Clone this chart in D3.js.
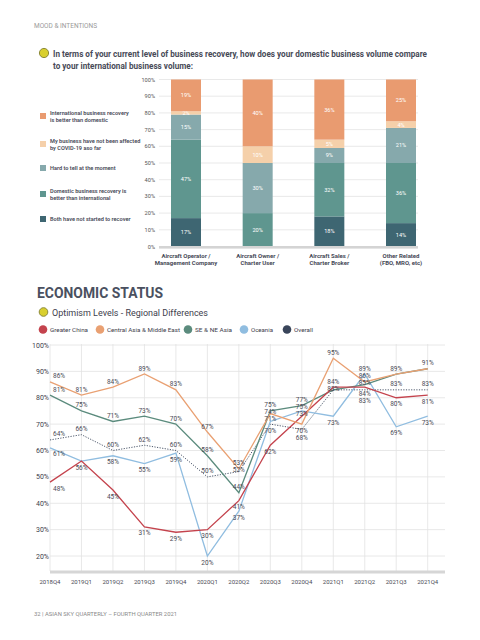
<!DOCTYPE html>
<html><head><meta charset="utf-8">
<script src="https://cdn.jsdelivr.net/npm/d3@7/dist/d3.min.js"></script>
<style>body{margin:0;background:#fff}svg{display:block;font-family:Roboto,"Noto Sans",sans-serif}</style>
</head><body><svg id="c" width="480" height="640"></svg>
<script>
// ---------- DATA: bar chart ----------
const barCategories = ["Aircraft Operator /\nManagement Company", "Aircraft Owner /\nCharter User", "Aircraft Sales /\nCharter Broker", "Other Related\n(FBO, MRO, etc)"];
const segmentKeys = ["both", "domestic", "hard", "notAffected", "international"];
const segmentLabels = ["Both have not started to recover", "Domestic business recovery is\nbetter than international", "Hard to tell at the moment", "My business have not been affected\nby COVID-19 aso far", "International business recovery\nis better than domestic"];
const bothNotStarted = [17, 0, 18, 14];
const domesticBetter = [47, 20, 32, 36];
const hardToTell = [15, 30, 9, 21];
const notAffected = [2, 10, 5, 4];
const internationalBetter = [19, 40, 36, 25];
const barTicks = [0, 10, 20, 30, 40, 50, 60, 70, 80, 90, 100];

// ---------- DATA: line chart ----------
const quarters = ["2018Q4","2019Q1","2019Q2","2019Q3","2019Q4","2020Q1","2020Q2","2020Q3","2020Q4","2021Q1","2021Q2","2021Q3","2021Q4"];
const seriesNames = ["Greater China", "Central Asia & Middle East", "SE & NE Asia", "Oceania", "Overall"];
const greaterChina = [48, 56, 45, 31, 29, 30, 41, 62, 73, 84, 84, 80, 81];
const centralAsiaME = [86, 81, 84, 89, 83, 67, 53, 74, 70, 95, 86, 89, 91];
const seNeAsia = [81, 75, 71, 73, 70, 58, 44, 75, 77, 83, 85, 89, 91];
const oceania = [61, 56, 58, 55, 59, 20, 37, 71, 75, 73, 89, 69, 73];
const overall = [64, 66, 60, 62, 60, 50, 52, 70, 68, 83, 83, 83, 83];
const lineTicks = [20, 30, 40, 50, 60, 70, 80, 90, 100];

const svg = d3.select("#c");
const textCol = "#474a57";

// ---------- header ----------
svg.append("text").attr("x", 34).attr("y", 28).attr("font-size", 6.5).attr("fill", "#9a9a9a")
  .attr("textLength", 63).attr("lengthAdjust", "spacingAndGlyphs").text("MOOD & INTENTIONS");
svg.append("circle").attr("cx", 44).attr("cy", 53).attr("r", 4.6).attr("fill", "#d9cf2e").attr("stroke", "#8c8a3a").attr("stroke-width", 1);
svg.append("text").attr("x", 53).attr("y", 56.5).attr("font-size", 9.3).attr("font-weight", 700).attr("fill", textCol)
  .attr("textLength", 374).attr("lengthAdjust", "spacingAndGlyphs")
  .text("In terms of your current level of business recovery, how does your domestic business volume compare");
svg.append("text").attr("x", 53).attr("y", 69).attr("font-size", 9.3).attr("font-weight", 700).attr("fill", textCol)
  .attr("textLength", 140).attr("lengthAdjust", "spacingAndGlyphs")
  .text("to your international business volume:");

// ---------- bar chart ----------
const segColors = {both: "#3e6672", domestic: "#5f968f", hard: "#86a9ac", notAffected: "#f5d0aa", international: "#e99b70"};
const yB = d3.scaleLinear().domain([0, 100]).range([246.5, 79.5]);
const xB = d3.scalePoint().domain(barCategories).range([186, 401]);
const barW = 30;
const gB = svg.append("g");
barTicks.forEach(t => {
  gB.append("line").attr("x1", 159).attr("x2", 418).attr("y1", yB(t)).attr("y2", yB(t)).attr("stroke", "#e3e3e3").attr("stroke-width", 0.8);
  gB.append("text").attr("x", 155).attr("y", yB(t) + 2).attr("text-anchor", "end").attr("font-size", 5.6).attr("fill", "#555").text(t + "%");
});
const barRows = barCategories.map((c, i) => ({cat: c, both: bothNotStarted[i], domestic: domesticBetter[i], hard: hardToTell[i], notAffected: notAffected[i], international: internationalBetter[i]}));
const stacked = d3.stack().keys(segmentKeys)(barRows);
stacked.forEach(layer => {
  layer.forEach(d => {
    const x = xB(d.data.cat) - barW / 2;
    gB.append("rect").attr("x", x).attr("width", barW).attr("y", yB(d[1])).attr("height", Math.max(0, yB(d[0]) - yB(d[1]))).attr("fill", segColors[layer.key]);
    const v = d[1] - d[0];
    const ly = v === 0 ? yB(d[0]) - 4 : (yB(d[0]) + yB(d[1])) / 2 + 2;
    gB.append("text").attr("x", xB(d.data.cat)).attr("y", ly).attr("text-anchor", "middle").attr("font-size", 5.6).attr("fill", "#fff").text(v + "%");
  });
});
gB.append("rect").attr("x", 159).attr("y", 246).attr("width", 259).attr("height", 2.6).attr("fill", "#d4d4d4");
barCategories.forEach(c => {
  c.split("\n").forEach((ln, j) => {
    gB.append("text").attr("x", xB(c)).attr("y", 258 + j * 7).attr("text-anchor", "middle").attr("font-size", 6).attr("font-weight", 700).attr("fill", textCol).text(ln);
  });
});
// legend (top to bottom = reverse of stack)
const legY = [116, 144, 168, 194, 219];
segmentKeys.slice().reverse().forEach((k, i) => {
  const idx = segmentKeys.length - 1 - i;
  gB.append("rect").attr("x", 40).attr("y", legY[i] - 3).attr("width", 6).attr("height", 6).attr("fill", segColors[k]);
  const lines = segmentLabels[idx].split("\n");
  lines.forEach((ln, j) => {
    gB.append("text").attr("x", 50).attr("y", legY[i] + 2 - (lines.length - 1) * 3.5 + j * 7).attr("font-size", 5.6).attr("font-weight", 600).attr("fill", textCol).text(ln);
  });
});

// ---------- section 2 header ----------
svg.append("text").attr("x", 37).attr("y", 298).attr("font-size", 15).attr("font-weight", 700).attr("fill", "#4a5060")
  .attr("textLength", 126).attr("lengthAdjust", "spacingAndGlyphs").text("ECONOMIC STATUS");
svg.append("circle").attr("cx", 43.5).attr("cy", 312).attr("r", 4.3).attr("fill", "#d9cf2e").attr("stroke", "#8c8a3a").attr("stroke-width", 1);
svg.append("text").attr("x", 52).attr("y", 315.5).attr("font-size", 9).attr("fill", "#3e404c")
  .attr("textLength", 156).attr("lengthAdjust", "spacingAndGlyphs").text("Optimism Levels - Regional Differences");

const lineColors = ["#c4434d", "#e9a072", "#5b8b7d", "#90bde0", "#39455a"];
const legendCircleX = [43, 100, 188, 244, 287];
const legendTextW = [38, 73, 37, 22, 19];
seriesNames.forEach((n, i) => {
  svg.append("circle").attr("cx", legendCircleX[i]).attr("cy", 329.5).attr("r", 4.3).attr("fill", lineColors[i]);
  svg.append("text").attr("x", legendCircleX[i] + 7).attr("y", 331.8).attr("font-size", 6).attr("fill", "#3e404c")
    .attr("textLength", legendTextW[i]).attr("lengthAdjust", "spacingAndGlyphs").text(n);
});

// ---------- line chart ----------
const xL = d3.scalePoint().domain(quarters).range([50, 427.7]);
const yL = d3.scaleLinear().domain([20, 100]).range([556, 345]);
const gL = svg.append("g");
quarters.forEach(q => {
  gL.append("line").attr("x1", xL(q)).attr("x2", xL(q)).attr("y1", 344).attr("y2", 571).attr("stroke", "#e2e2e2").attr("stroke-width", 0.8);
  gL.append("text").attr("x", xL(q)).attr("y", 584).attr("text-anchor", "middle").attr("font-size", 6).attr("fill", "#4a4a55").text(q);
});
lineTicks.forEach(t => {
  gL.append("line").attr("x1", 50).attr("x2", 445).attr("y1", yL(t)).attr("y2", yL(t)).attr("stroke", "#e2e2e2").attr("stroke-width", 0.8);
  gL.append("text").attr("x", 49).attr("y", yL(t) + 2.5).attr("text-anchor", "end").attr("font-size", 7).attr("fill", "#3e404c").text(t + "%");
});
gL.append("rect").attr("x", 50).attr("y", 570.5).attr("width", 395).attr("height", 3).attr("fill", "#d6d6d6");

const seriesData = [greaterChina, centralAsiaME, seNeAsia, oceania, overall];
const line = d3.line().x((d, i) => xL(quarters[i])).y(d => yL(d));
[4, 3, 2, 0, 1].forEach(si => {
  gL.append("path").datum(seriesData[si]).attr("d", line).attr("fill", "none")
    .attr("stroke", lineColors[si]).attr("stroke-width", si === 4 ? 0.9 : 1.3)
    .attr("stroke-dasharray", si === 4 ? "1.2,1.4" : null);
});
// value labels with simple vertical collision avoidance per quarter
quarters.forEach((q, i) => {
  const vals = seriesData.map(s => s[i]);
  const med = d3.median(vals);
  const seen = new Set();
  const labs = [];
  seriesData.forEach((s, si) => {
    const v = s[i];
    if (seen.has(v)) return;
    seen.add(v);
    const above = v >= med;
    labs.push({v, y: yL(v) + (above ? -3.5 : 8.5)});
  });
  labs.sort((a, b) => a.y - b.y);
  for (let k = 1; k < labs.length; k++) {
    if (labs[k].y < labs[k - 1].y + 7) labs[k].y = labs[k - 1].y + 7;
  }
  const x = xL(q) + (i === 0 ? 3 : 0);
  labs.forEach(l => {
    gL.append("text").attr("x", x).attr("y", l.y)
      .attr("text-anchor", i === 0 ? "start" : "middle").attr("font-size", 6.5).attr("fill", "#4a4a55").text(l.v + "%");
  });
});

// footer
svg.append("text").attr("x", 34).attr("y", 616).attr("font-size", 5.5).attr("fill", "#8a8a8a")
  .attr("textLength", 143).attr("lengthAdjust", "spacingAndGlyphs").text("32 | ASIAN SKY QUARTERLY – FOURTH QUARTER 2021");
</script></body></html>
